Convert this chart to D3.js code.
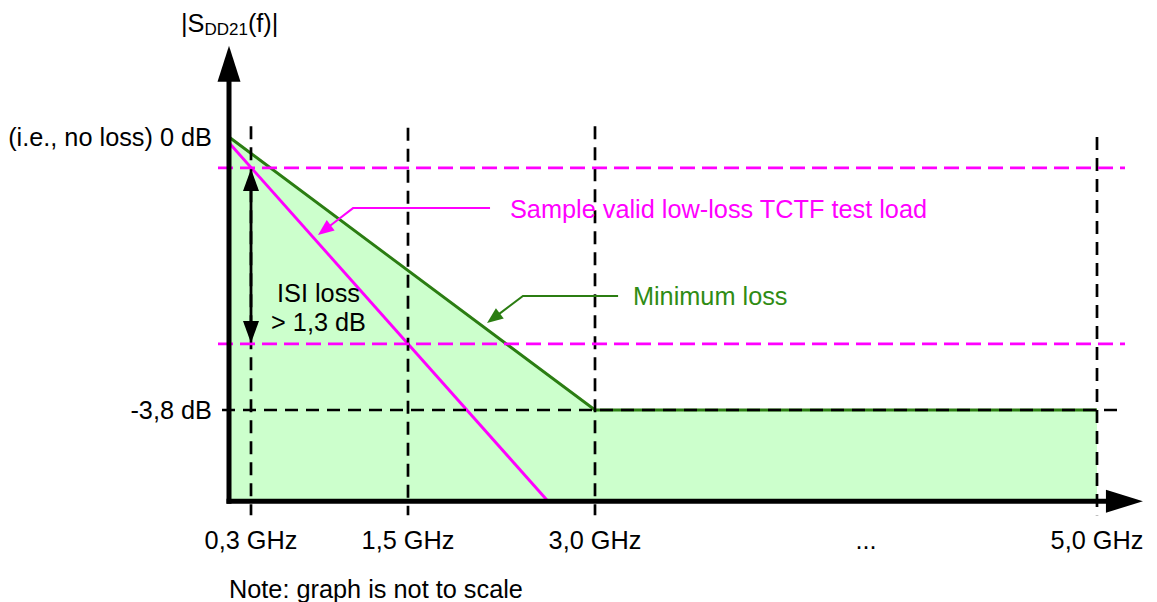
<!DOCTYPE html>
<html><head><meta charset="utf-8">
<script src="https://cdn.jsdelivr.net/npm/d3@7"></script>
<style>
body{margin:0;background:#fff}
svg{display:block}
text{font-family:"Liberation Sans",Arial,Helvetica,sans-serif;font-size:25.3px}
</style>
</head><body>
<svg id="c" width="1157" height="602"></svg>
<script>
// ---- data ----
const freqTicks = [0.3, 1.5, 3.0, 5.0];
const freqTickLabels = ["0,3 GHz", "1,5 GHz", "3,0 GHz", "5,0 GHz"];
const gapFreq = [4.08];
const gapLabel = ["..."];
const minLossFreq = [0, 3.0, 5.0];
const minLossDb = [0, -3.8, -3.8];
const sampleFreq = [0, 2.623];
const sampleDb = [-0.08, -5.07];
const isiLimitsDb = [-0.43, -2.88];
const dbTicks = [0, -3.8];
const dbTickLabels = ["(i.e., no loss) 0 dB", "-3,8 dB"];
const axisDbMin = -5.07, axisDbMax = 1.27, axisFreqMax = 5.183;
const gridTopDb = [0.15, 0.13, 0.15, 0.0];

// ---- layout ----
const svg = d3.select("#c");
// schematic (not to scale) piecewise frequency scale
const x = d3.scaleLinear().domain([0, 0.3, 1.5, 3.0, 5.0]).range([229, 251, 408, 595, 1097]);
const y = d3.scaleLinear().domain([-3.8, 0]).range([410, 137]);
const green = "#2b7d12", greenText = "#2f8c14", mag = "#ff00ff", fill = "#ccffcc";
const x0 = x(0), yB = y(axisDbMin);

const minLoss = minLossFreq.map((f, i) => ({f, db: minLossDb[i]}));
const sample = sampleFreq.map((f, i) => ({f, db: sampleDb[i]}));

// fill under minimum-loss curve
svg.append("path")
  .datum(minLoss)
  .attr("fill", fill)
  .attr("d", d3.area().x(d => x(d.f)).y0(yB).y1(d => y(d.db)));

// curves
svg.append("path").datum(minLoss)
  .attr("fill", "none").attr("stroke", green).attr("stroke-width", 2.9)
  .attr("d", d3.line().x(d => x(d.f)).y(d => y(d.db)));
svg.append("path").datum(sample)
  .attr("fill", "none").attr("stroke", mag).attr("stroke-width", 2.9)
  .attr("d", d3.line().x(d => x(d.f)).y(d => y(d.db)));

// black vertical dashed grid lines
svg.selectAll(".vg").data(freqTicks).join("line")
  .attr("x1", d => x(d)).attr("x2", d => x(d))
  .attr("y1", (d, i) => y(gridTopDb[i])).attr("y2", yB + 14)
  .attr("stroke", "#000").attr("stroke-width", 2.7).attr("stroke-dasharray", "13,8");

// black horizontal dashed at -3.8 dB
svg.append("line")
  .attr("x1", x0 - 7).attr("x2", x(5.0) + 27)
  .attr("y1", y(-3.8)).attr("y2", y(-3.8))
  .attr("stroke", "#000").attr("stroke-width", 2.7).attr("stroke-dasharray", "13,8");

// magenta dashed limits
svg.selectAll(".mg").data(isiLimitsDb).join("line")
  .attr("x1", x0 - 11).attr("x2", x(5.0) + 28)
  .attr("y1", d => y(d)).attr("y2", d => y(d))
  .attr("stroke", mag).attr("stroke-width", 2.7).attr("stroke-dasharray", "15,7");

// axes
const yTop = y(axisDbMax), xEnd = x(axisFreqMax);
svg.append("line").attr("x1", x0).attr("x2", x0).attr("y1", yB + 2.5).attr("y2", yTop + 30)
  .attr("stroke", "#000").attr("stroke-width", 5);
svg.append("path").attr("d", `M${x0},${yTop} L${x0 - 11.5},${yTop + 36} L${x0 + 11.5},${yTop + 36} Z`).attr("fill", "#000");
svg.append("line").attr("x1", x0 - 2.5).attr("x2", xEnd - 30).attr("y1", yB).attr("y2", yB)
  .attr("stroke", "#000").attr("stroke-width", 5);
svg.append("path").attr("d", `M${xEnd},${yB} L${xEnd - 37},${yB - 11.5} L${xEnd - 37},${yB + 11.5} Z`).attr("fill", "#000");

// ISI double arrow at 0.3 GHz
const ax = x(0.3), ya = y(isiLimitsDb[0]), yb = y(isiLimitsDb[1]);
svg.append("line").attr("x1", ax).attr("x2", ax).attr("y1", ya + 10).attr("y2", yb - 10)
  .attr("stroke", "#000").attr("stroke-width", 2.8);
svg.append("path").attr("d", `M${ax},${ya + 1} L${ax - 8},${ya + 23} L${ax + 8},${ya + 23} Z`).attr("fill", "#000");
svg.append("path").attr("d", `M${ax},${yb - 1} L${ax - 8},${yb - 23} L${ax + 8},${yb - 23} Z`).attr("fill", "#000");

// leader arrows
function leader(pts, color) {
  const p = pts.map(d => [x(d.f), y(d.db)]);
  const tip = p[p.length - 1], prev = p[p.length - 2];
  const ang = Math.atan2(tip[1] - prev[1], tip[0] - prev[0]);
  const L = 16, W = 6.5;
  const bx = tip[0] - L * Math.cos(ang), by = tip[1] - L * Math.sin(ang);
  const q = p.slice(0, -1).concat([[bx + 2 * Math.cos(ang), by + 2 * Math.sin(ang)]]);
  svg.append("path").attr("d", d3.line()(q)).attr("fill", "none").attr("stroke", color).attr("stroke-width", 2);
  const nx = -Math.sin(ang), ny = Math.cos(ang);
  svg.append("path").attr("d",
    `M${tip[0]},${tip[1]} L${bx + W * nx},${by + W * ny} L${bx - W * nx},${by - W * ny} Z`).attr("fill", color);
}
leader([{f: 2.158, db: -0.99}, {f: 1.08, db: -0.99}, {f: 0.812, db: -1.364}], mag);
leader([{f: 3.092, db: -2.213}, {f: 2.422, db: -2.213}, {f: 2.134, db: -2.589}], green);

// texts
svg.append("text").attr("x", x(2.318)).attr("y", y(-1.134)).attr("fill", mag)
  .text("Sample valid low-loss TCTF test load");
svg.append("text").attr("x", x(3.151)).attr("y", y(-2.339)).attr("fill", greenText)
  .text("Minimum loss");
svg.append("text").attr("x", x(0.499)).attr("y", y(-2.29)).text("ISI loss");
svg.append("text").attr("x", x(0.453)).attr("y", y(-2.70)).text("> 1,3 dB");

// y tick labels
svg.selectAll(".yl").data(dbTicks).join("text")
  .attr("x", x0 - 17).attr("y", d => y(d) + 9).attr("text-anchor", "end")
  .text((d, i) => dbTickLabels[i]);

// x tick labels
svg.selectAll(".xl").data(freqTicks.concat(gapFreq)).join("text")
  .attr("x", d => x(d)).attr("y", yB + 48).attr("text-anchor", "middle")
  .text((d, i) => freqTickLabels.concat(gapLabel)[i]);

// y axis title
const t = svg.append("text").attr("x", 181).attr("y", 32);
t.append("tspan").text("|S");
t.append("tspan").attr("dy", 3).style("font-size", "17px").text("DD21");
t.append("tspan").attr("dy", -3).text("(f)|");

// note
svg.append("text").attr("x", x0).attr("y", 598).text("Note: graph is not to scale");
</script>
</body></html>
